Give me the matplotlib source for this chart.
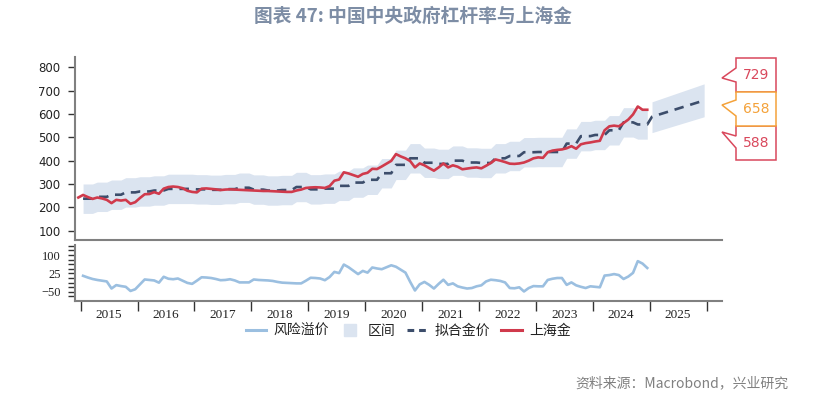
import numpy as np
import matplotlib
matplotlib.use('Agg')
import matplotlib.pyplot as plt
from matplotlib.lines import Line2D
from matplotlib.patches import Polygon
from matplotlib.ticker import FixedLocator, AutoMinorLocator

plt.rcParams['font.family'] = ['Noto Sans CJK SC', 'DejaVu Sans']

# 上海金, monthly, Dec 2014 - Dec 2024
gold = [242,
        253, 244, 236, 242, 238, 232, 218, 232, 229, 232, 215, 222,
        240, 256, 257, 265, 258, 280, 287, 289, 287, 282, 271, 266,
        264, 280, 281, 279, 277, 274, 276, 277, 276, 275, 274, 273,
        272, 271, 270, 270, 269, 268, 267, 266, 266, 272, 276, 283,
        285, 286, 285, 283, 291, 314, 319, 350, 345, 338, 331, 343,
        348, 365, 364, 375, 387, 399, 428, 418, 410, 398, 371, 388,
        380, 368, 357, 371, 388, 371, 380, 374, 363, 366, 369, 371,
        367, 378, 390, 405, 400, 394, 387, 386, 388, 392, 400, 410,
        414, 412, 436, 443, 446, 448, 453, 462, 451, 470, 475, 478,
        482, 485, 530, 547, 550, 547, 561, 576, 598, 632, 618, 618]

# 风险溢价, monthly, Jan 2015 - Dec 2024
risk = [15, 8, 2, -2, -5, -8, -37, -23, -27, -30, -47, -40,
        -20, 0, -2, -4, -13, 11, 3, 1, 4, -5, -14, -18,
        -5, 9, 8, 6, 2, -3, -2, 1, -4, -12, -12, -12,
        0, -2, -3, -4, -6, -10, -13, -14, -15, -16, -16, -5,
        7, 6, 4, -3, 10, 31, 26, 61, 50, 36, 22, 35,
        28, 49, 45, 42, 50, 58, 52, 40, 28, -10, -45, -20,
        -10, -22, -37, -18, -1, -22, -16, -28, -33, -37, -35, -28,
        -24, -8, -1, -3, -6, -12, -35, -36, -32, -49, -35, -27,
        -28, -28, -2, 3, 6, 6, -22, -12, -24, -30, -35, -28,
        -30, -32, 16, 18, 22, 18, 2, 12, 27, 75, 65, 47]

# 拟合金价 and 区间, quarterly, 2015Q1 - 2024Q4
fit_q = [237, 245, 254, 264, 268, 272, 279, 279, 277, 275, 278, 284,
         276, 272, 274, 287, 277, 280, 292, 306, 318, 346, 382, 410,
         391, 386, 400, 392, 390, 410, 420, 436, 437, 437, 473, 505,
         510, 530, 564, 555]
upper_q = [300, 308, 317, 327, 331, 335, 342, 342, 340, 338, 341, 347,
           339, 335, 337, 350, 340, 343, 355, 369, 381, 409, 445, 473,
           454, 449, 463, 455, 453, 473, 483, 499, 500, 500, 536, 568,
           573, 593, 627, 618]
lower_q = [174, 182, 191, 201, 205, 209, 216, 216, 214, 212, 215, 221,
           213, 209, 211, 224, 214, 217, 229, 243, 255, 283, 319, 347,
           328, 323, 337, 329, 327, 347, 357, 373, 374, 374, 410, 442,
           447, 467, 501, 492]

# forecast for 2025 (Jan, Dec)
fc_month = [1, 12]
fc_fit = [588, 658]
fc_upper = [652, 729]
fc_lower = [520, 588]

years = list(range(2015, 2026))

c_gold = '#d03a4c'
c_fit = '#3c4d6b'
c_band = '#dbe4f0'
c_risk = '#9bbfe0'
c_title = '#7d8da5'


def mid(y, m):
    return y + (m - 0.5) / 12.0


x_gold = mid(2014, 12) + np.arange(len(gold)) / 12.0
x_risk = mid(2015, 1) + np.arange(len(risk)) / 12.0
fit_m = np.repeat(fit_q, 3)
up_m = np.repeat(upper_q, 3)
lo_m = np.repeat(lower_q, 3)
x_q = mid(2015, 1) + np.arange(len(fit_m)) / 12.0
x_fc = np.array([mid(2025, m) for m in fc_month])

W, H = 827, 397
fig = plt.figure(figsize=(W / 100, H / 100), dpi=100)

xl, xr = 74.5, 722
xlim = (2014.891, 2026.272)
ax = fig.add_axes([xl / W, 1 - 240 / H, (xr - xl) / W, (240 - 57) / H])
ax2 = fig.add_axes([xl / W, 1 - 300.5 / H, (xr - xl) / W, (300.5 - 245) / H])

# top panel
ax.fill_between(x_q, lo_m, up_m, color=c_band, lw=0, zorder=1)
ax.fill_between(x_fc, fc_lower, fc_upper, color=c_band, lw=0, zorder=1)
ax.plot(np.concatenate([x_q, x_fc]), np.concatenate([fit_m, fc_fit]),
        color=c_fit, lw=1.9, dashes=(3.6, 2.6), zorder=3)
ax.plot(x_gold, gold, color=c_gold, lw=1.9, zorder=4)

ax.set_xlim(*xlim)
ax.set_ylim(60, 844)
ax.set_yticks(range(100, 801, 100))
ax.set_xticks([])
for s in ['top', 'right']:
    ax.spines[s].set_visible(False)
for s in ['left', 'bottom']:
    ax.spines[s].set_color('#808080')
    ax.spines[s].set_linewidth(1.5)
ax.tick_params(axis='y', length=5, width=1, color='#333333', pad=5,
               labelsize=8.5, labelcolor='#222222')
for t in ax.get_yticklabels():
    t.set_fontfamily('DejaVu Sans')

# bottom panel
ax2.plot(x_risk, risk, color=c_risk, lw=1.9)
ax2.set_xlim(*xlim)
ax2.set_ylim(-86, 141)
ax2.yaxis.set_major_locator(FixedLocator([-50, 25, 100]))
ax2.yaxis.set_minor_locator(AutoMinorLocator(4))
ax2.set_xticks(years + [2026])
ax2.set_xticklabels([])
ax2.set_xticks([y + 0.5 for y in years], minor=True)
ax2.set_xticklabels([str(y) for y in years], minor=True)
for s in ['top', 'right']:
    ax2.spines[s].set_visible(False)
for s in ['left', 'bottom']:
    ax2.spines[s].set_color('#808080')
    ax2.spines[s].set_linewidth(1.5)
ax2.tick_params(axis='y', which='both', length=5, width=1, color='#333333',
                pad=5, labelsize=9, labelcolor='#222222')
ax2.tick_params(axis='x', which='major', length=7, width=1, color='#333333')
ax2.tick_params(axis='x', which='minor', length=0, pad=6, labelsize=9.5,
                labelcolor='#222222')
for t in ax2.get_yticklabels() + ax2.get_xticklabels(minor=True):
    t.set_fontfamily('Liberation Serif')

# legend
handles = [Line2D([], [], color=c_risk, lw=2.2),
           Line2D([], [], marker='s', ls='none', ms=9, color=c_band),
           Line2D([], [], color=c_fit, lw=2.2, dashes=(2.2, 1.6)),
           Line2D([], [], color=c_gold, lw=2.2)]
labels = ['风险溢价', '区间', '拟合金价', '上海金']
fig.legend(handles, labels, loc='center', ncol=4, frameon=False,
           bbox_to_anchor=(408 / W, 1 - 331 / H), fontsize=10,
           handlelength=1.5, handletextpad=0.5, columnspacing=0.8,
           labelcolor='#222222')

# callouts on the right
def P(x, y):
    return (x / W, 1 - y / H)

boxes = [(fc_upper[-1], '#d9485c', 58, 92, 68, 78, 82),
         (fc_fit[-1], '#f4a23a', 92, 126, 100, 105, 116),
         (fc_lower[-1], '#d9485c', 126, 160, 136, 132, 148)]
order = [0, 2, 1]
for i in order:
    val, col, top, bot, a1, tip, a2 = boxes[i]
    pts = [P(736, top), P(776, top), P(776, bot), P(736, bot),
           P(736, a2), P(722, tip), P(736, a1)]
    fig.patches.append(Polygon(pts, closed=True, transform=fig.transFigure,
                               facecolor='white', edgecolor=col, lw=1.1,
                               zorder=5 + (i == 1)))
    fig.text(756 / W, 1 - (top + bot) / 2 / H, str(val), color=col,
             fontsize=10, ha='center', va='center', family='DejaVu Sans',
             zorder=7)

fig.text(413 / W, 1 - 16 / H, '图表 47: 中国中央政府杠杆率与上海金',
         ha='center', va='center', fontsize=13.5, fontweight='bold',
         color=c_title)
fig.text(788 / W, 1 - 383 / H, '资料来源：Macrobond，兴业研究',
         ha='right', va='center', fontsize=10, color='#808080')

fig.savefig('out.png', dpi=100)
